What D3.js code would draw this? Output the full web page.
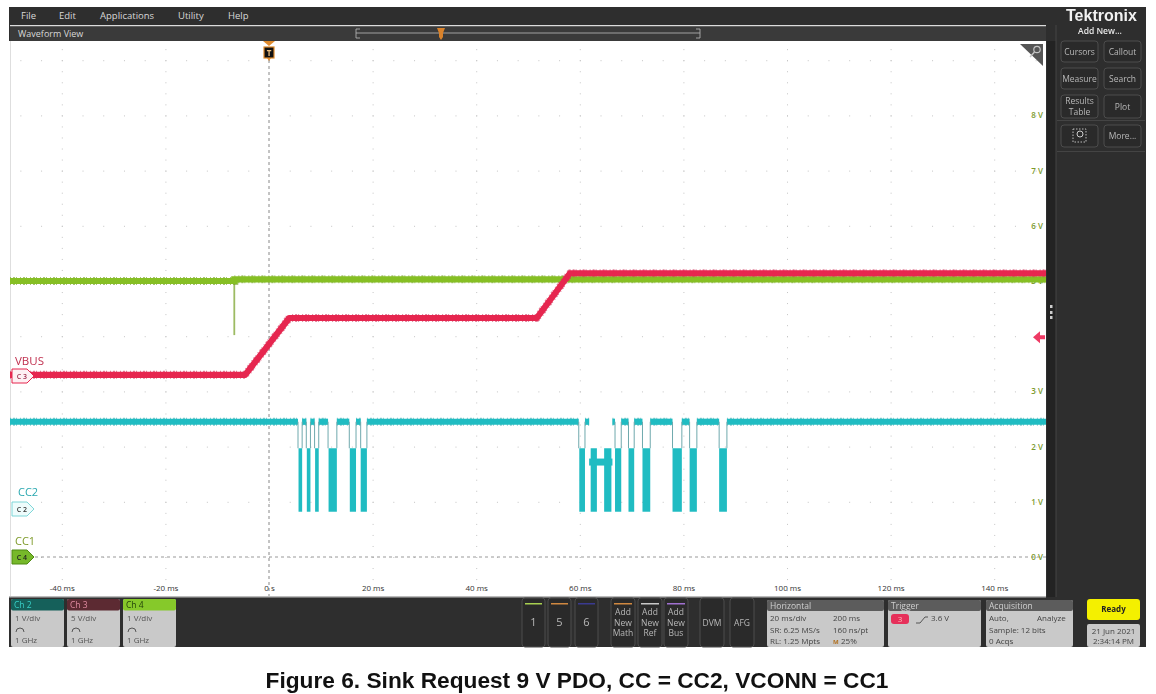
<!DOCTYPE html>
<html>
<head>
<meta charset="utf-8">
<script src="https://cdn.jsdelivr.net/npm/d3@7"></script>
<style>
  html, body { margin: 0; padding: 0; background: #fff; overflow: hidden; }
  svg { display: block; filter: blur(0.4px); }
  text { font-family: "Open Sans", sans-serif; }
  text.arial { font-family: "Liberation Sans", Arial, sans-serif; }
</style>
</head>
<body>
<svg id="scope" width="1156" height="694"></svg>
<script>
// values
const xTicks = [-40, -20, 0, 20, 40, 60, 80, 100, 120, 140];
const xTickLabels = ["-40 ms", "-20 ms", "0 s", "20 ms", "40 ms", "60 ms", "80 ms", "100 ms", "120 ms", "140 ms"];
const yTicks = [0, 1, 2, 3, 5, 6, 7, 8];
const gridVolts = [0, 1, 2, 3, 4, 5, 6, 7, 8, 9];

const vbusTime = [-50, -4.6, 3.9, 51.7, 58.1, 150];
const vbusVolts = [3.3, 3.3, 4.33, 4.33, 5.14, 5.14];

const cc1Time = [-50, -6.7, -6.7, 150];
const cc1Volts = [5.0, 5.0, 5.03, 5.03];
const cc1GlitchTime = [-6.7, -6.7];
const cc1GlitchVolts = [5.0, 4.02];

const cc2High = 2.45;
const cc2BarTop = 1.97;
const cc2BarBottom = 0.82;
// top band breaks
const cc2GapStart = [5.6, 7.2, 8.8, 11.4, 15.5, 17.7, 59.8, 61.8, 66.8, 69.4, 72.1, 77.9, 81.2, 86.9];
const cc2GapEnd = [6.4, 8.0, 9.6, 13.1, 16.8, 18.9, 61.0, 66.3, 68.0, 70.5, 73.6, 79.7, 82.6, 88.4];
// solid toggling bursts
const cc2BarStart = [5.7, 7.3, 8.9, 11.5, 15.6, 17.7, 59.9, 62.1, 64.7, 66.8, 69.4, 72.1, 77.9, 81.2, 86.9];
const cc2BarEnd = [6.4, 8.0, 9.6, 13.1, 16.8, 18.9, 61.0, 63.3, 66.1, 68.0, 70.5, 73.6, 79.7, 82.6, 88.4];
const cc2CrossTime = [61.8, 66.3];
const cc2CrossVolts = 1.72;

const triggerArrowVolts = 3.98;

const col = { cc2: "#20bcc2", cc1: "#86bf24", vbus: "#e6264f", dark: "#2e2e2e", panel: "#c9c9c9", head: "#5c5c5c" };

const svg = d3.select("#scope");
const x = d3.scaleLinear().domain([-50, 150]).range([10, 1046]);
const y = d3.scaleLinear().domain([0, 1]).range([557, 501.8]);

// frame
svg.append("rect").attr("x", 9).attr("y", 7).attr("width", 1137).attr("height", 640).attr("fill", col.dark);
svg.append("rect").attr("x", 8).attr("y", 41).attr("width", 1038).attr("height", 555).attr("fill", "#fff");
svg.append("rect").attr("x", 10).attr("y", 41).attr("width", 1).attr("height", 555).attr("fill", "#dedede");
svg.append("rect").attr("x", 10).attr("y", 25).attr("width", 1036).attr("height", 1.5).attr("fill", "#dcdcdc");
svg.append("rect").attr("x", 10).attr("y", 26.5).attr("width", 1036).attr("height", 14.5).attr("fill", "#3a3a3a");
svg.append("rect").attr("x", 1047).attr("y", 41).attr("width", 9).attr("height", 556).attr("fill", "#232323");
svg.append("rect").attr("x", 9).attr("y", 596).attr("width", 1037).attr("height", 1.5).attr("fill", "#bbb");

function label(px, py, str, size, fill, anchor, weight) {
  return svg.append("text").attr("x", px).attr("y", py).text(str)
    .attr("font-size", size).attr("fill", fill)
    .attr("text-anchor", anchor || "start").attr("font-weight", weight || 400);
}

// menu bar
[["File", 21], ["Edit", 59], ["Applications", 100], ["Utility", 178], ["Help", 228]].forEach(m => label(m[1], 19, m[0], 9.5, "#d8d8d8"));
label(18, 37, "Waveform View", 9, "#d8d8d8");

// overview bracket
svg.append("path").attr("d", "M356 29V38M356 33H700M700 29V38M356 29H360M356 38H360M700 29H696M700 38H696")
  .attr("fill", "none").attr("stroke", "#bbb").attr("stroke-width", 0.8);
svg.append("path").attr("d", "M437 28H445L443 33V37L441 40L439 37V33Z").attr("fill", "#d9822b");

// grid dots
const minorX = d3.range(-48, 150, 4);
const minorY = d3.range(-0.6, 9.4, 0.2);
const grid = svg.append("g").attr("fill", "#c4c4c4");
gridVolts.forEach(v => {
  grid.selectAll(null).data(minorX).enter().append("rect")
    .attr("x", d => x(d)).attr("y", y(v)).attr("width", 1).attr("height", 1);
});
xTicks.filter(t => t !== 0).forEach(t => {
  grid.selectAll(null).data(minorY).enter().append("rect")
    .attr("x", x(t)).attr("y", d => y(d)).attr("width", 1).attr("height", 1);
});

// ground reference + trigger position
svg.append("line").attr("x1", 35).attr("x2", x(150)).attr("y1", y(0)).attr("y2", y(0))
  .attr("stroke", "#999").attr("stroke-width", 1).attr("stroke-dasharray", "3 3");
svg.append("line").attr("x1", x(0)).attr("x2", x(0)).attr("y1", 60).attr("y2", 596)
  .attr("stroke", "#888").attr("stroke-width", 1).attr("stroke-dasharray", "3 3");

// axes
const xAxis = d3.axisBottom(x).tickValues(xTicks).tickSize(0).tickFormat((d, i) => xTickLabels[i]);
const gx = svg.append("g").attr("transform", "translate(0,582)").call(xAxis);
gx.select(".domain").remove();
gx.selectAll("text").attr("font-size", 8).attr("fill", "#333").style("font-family", "'Open Sans', sans-serif");

const yAxis = d3.axisLeft(y).tickValues(yTicks).tickSize(0).tickFormat(d => d + " V");
const gy = svg.append("g").attr("transform", "translate(1046,0)").call(yAxis);
gy.select(".domain").remove();
gy.selectAll("text").attr("font-size", 8).attr("fill", "#7c9a2c").attr("font-weight", 600).style("font-family", "'Open Sans', sans-serif");

// thick trace plus a broken outer stroke so the edge reads as scope noise
function noisyStroke(sel, edge) {
  const base = sel.clone(true).attr("stroke", edge).attr("stroke-width", 8)
    .attr("stroke-opacity", 0.6).attr("stroke-dasharray", "1 2 2 1 1 3");
  sel.raise();
  return base;
}

// CC2 trace
const cc2 = svg.append("g");
const bandEdges = [-50].concat(
  cc2GapStart.flatMap((s, i) => [s, cc2GapEnd[i]]), [150]);
d3.range(0, bandEdges.length, 2).forEach(i => {
  const band = cc2.append("line").attr("x1", x(bandEdges[i])).attr("x2", x(bandEdges[i + 1]))
    .attr("y1", y(cc2High)).attr("y2", y(cc2High))
    .attr("stroke", col.cc2).attr("stroke-width", 6.2);
  noisyStroke(band, "#35a8ac");
});
cc2GapStart.forEach((s, i) => {
  if (s === cc2CrossTime[0]) return;
  [s, cc2GapEnd[i]].forEach(t => {
    cc2.append("line").attr("x1", x(t)).attr("x2", x(t))
      .attr("y1", y(cc2High)).attr("y2", y(cc2BarTop))
      .attr("stroke", "#6fa9ad").attr("stroke-width", 1);
  });
});
cc2.selectAll("rect.bar").data(cc2BarStart).enter().append("rect").attr("class", "bar")
  .attr("x", d => x(d))
  .attr("width", (d, i) => x(cc2BarEnd[i]) - x(d))
  .attr("y", y(cc2BarTop))
  .attr("height", y(cc2BarBottom) - y(cc2BarTop))
  .attr("fill", col.cc2);
cc2.append("line").attr("x1", x(cc2CrossTime[0])).attr("x2", x(cc2CrossTime[1]))
  .attr("y1", y(cc2CrossVolts)).attr("y2", y(cc2CrossVolts))
  .attr("stroke", col.cc2).attr("stroke-width", 7);

// CC1 trace
const line = d3.line().x(d => x(d[0])).y(d => y(d[1]));
svg.append("path").datum(cc1GlitchTime.map((t, i) => [t, cc1GlitchVolts[i]])).attr("d", line)
  .attr("fill", "none").attr("stroke", "#9dbb63").attr("stroke-width", 1.8);
const cc1Path = svg.append("path").datum(cc1Time.map((t, i) => [t, cc1Volts[i]])).attr("d", line)
  .attr("fill", "none").attr("stroke", col.cc1).attr("stroke-width", 6.2);
noisyStroke(cc1Path, "#6f9a22");

// VBUS trace
const vbusPath = svg.append("path").datum(vbusTime.map((t, i) => [t, vbusVolts[i]])).attr("d", line)
  .attr("fill", "none").attr("stroke", col.vbus).attr("stroke-width", 6.2).attr("stroke-linejoin", "round");
noisyStroke(vbusPath, "#d0305a");

// trigger markers
svg.append("path").attr("d", `M${x(0) - 6} 41H${x(0) + 6}L${x(0)} 46Z`).attr("fill", "#e08a2c");
svg.append("rect").attr("x", x(0) - 5).attr("y", 47).attr("width", 10).attr("height", 11)
  .attr("fill", "#111").attr("stroke", "#e08a2c").attr("stroke-width", 1.2);
label(x(0), 56, "T", 8, "#f0c080", "middle", 700);
svg.append("path").attr("d", `M${x(0) - 2} 58H${x(0) + 2}L${x(0)} 61Z`).attr("fill", "#e08a2c");
const ta = y(triggerArrowVolts);
svg.append("path").attr("d", `M1033 ${ta}L1040 ${ta - 6}V${ta - 2}H1045V${ta + 2}H1040V${ta + 6}Z`).attr("fill", "#ee3a64");

// zoom corner
svg.append("path").attr("d", "M1020 44H1043V66Z").attr("fill", "#555");
svg.append("circle").attr("cx", 1037).attr("cy", 49.5).attr("r", 3.2).attr("fill", "none").attr("stroke", "#c4c4c4").attr("stroke-width", 1.2);
svg.append("line").attr("x1", 1034.5).attr("y1", 52).attr("x2", 1030).attr("y2", 57).attr("stroke", "#c4c4c4").attr("stroke-width", 1.4);

// side handle
[305, 311, 316].forEach(py => svg.append("rect").attr("x", 1050).attr("y", py).attr("width", 2.5).attr("height", 3).attr("fill", "#ccc"));

// channel badges
function badge(py, name, fill, stroke, txt) {
  svg.append("path").attr("d", `M12 ${py}H27L34 ${py + 7}L27 ${py + 14}H12Z`)
    .attr("fill", fill).attr("stroke", stroke).attr("stroke-width", 1).attr("stroke-linejoin", "round");
  label(22, py + 10, name, 7, txt, "middle", 600);
}
badge(369, "C 3", "#fdf0f3", "#e6264f", "#a03050");
badge(502, "C 2", "#eefcfc", "#7fd6d8", "#333");
badge(550, "C 4", "#76b82a", "#4f8a12", "#222");
label(15, 365, "VBUS", 11.5, "#c0304f");
label(18, 496, "CC2", 11, "#2aa8b0");
label(15, 545, "CC1", 11, "#7e9a2a");

// channel tiles
function channelTile(px, head, headText, name, scale) {
  svg.append("rect").attr("x", px).attr("y", 599).attr("width", 53).attr("height", 48).attr("rx", 2).attr("fill", col.panel);
  svg.append("rect").attr("x", px).attr("y", 599).attr("width", 53).attr("height", 11.5).attr("rx", 2).attr("fill", head);
  label(px + 3, 608, name, 8.5, headText);
  label(px + 4, 621, scale, 8, "#555");
  svg.append("path").attr("d", `M${px + 5} 632a4 4 0 0 1 8 0`).attr("fill", "none").attr("stroke", "#555").attr("stroke-width", 1);
  label(px + 4, 643, "1 GHz", 8, "#555");
}
channelTile(11, "#15605a", "#38d0c8", "Ch 2", "1 V/div");
channelTile(67, "#5c2a32", "#e08aa0", "Ch 3", "5 V/div");
channelTile(123, "#86c92a", "#22420a", "Ch 4", "1 V/div");

// dark buttons
function darkButton(px, py, w, h, lines, size) {
  svg.append("rect").attr("x", px).attr("y", py).attr("width", w).attr("height", h).attr("rx", 3)
    .attr("fill", "#2a2a2a").attr("stroke", "#4c4c4c").attr("stroke-width", 1);
  const lh = size + 2;
  const start = py + h / 2 - (lines.length - 1) * lh / 2 + size * 0.36;
  lines.forEach((s, i) => label(px + w / 2, start + i * lh, s, size, "#b8b8b8", "middle"));
}
function strip(px, w, color) {
  svg.append("rect").attr("x", px + 3).attr("y", 603).attr("width", w - 6).attr("height", 1.5).attr("fill", color);
}
darkButton(522, 598, 23, 49, ["1"], 11); strip(522, 23, "#a8d050");
darkButton(548, 598, 23, 49, ["5"], 11); strip(548, 23, "#d08840");
darkButton(575, 598, 23, 49, ["6"], 11); strip(575, 23, "#3a3a90");
darkButton(611, 598, 24, 49, ["Add", "New", "Math"], 8.5); strip(611, 24, "#d08840");
darkButton(638, 598, 24, 49, ["Add", "New", "Ref"], 8.5); strip(638, 24, "#c8c8c8");
darkButton(664, 598, 24, 49, ["Add", "New", "Bus"], 8.5); strip(664, 24, "#a070d0");
darkButton(700, 598, 24, 49, ["DVM"], 8.5);
darkButton(730, 598, 24, 49, ["AFG"], 8.5);

// status tiles
function statusTile(px, w, title) {
  svg.append("rect").attr("x", px).attr("y", 600).attr("width", w).attr("height", 47).attr("rx", 2).attr("fill", col.panel);
  svg.append("rect").attr("x", px).attr("y", 600).attr("width", w).attr("height", 11).attr("rx", 2).attr("fill", col.head);
  label(px + 3, 609, title, 8.5, "#cfcfcf");
}
statusTile(767, 117, "Horizontal");
label(770, 621, "20 ms/div", 8, "#444");
label(833, 621, "200 ms", 8, "#444");
label(770, 632.5, "SR: 6.25 MS/s", 8, "#444");
label(833, 632.5, "160 ns/pt", 8, "#444");
label(770, 643.5, "RL: 1.25 Mpts", 8, "#444");
label(833, 643.5, "M", 6, "#b07020", "start", 700);
label(841, 643.5, "25%", 8, "#444");

statusTile(888, 93, "Trigger");
svg.append("rect").attr("x", 891).attr("y", 614).attr("width", 18).attr("height", 10).attr("rx", 3).attr("fill", "#e6305a");
label(900, 622, "3", 8, "#fbb", "middle");
svg.append("path").attr("d", "M916 623L920 623L925 617L928 617").attr("fill", "none").attr("stroke", "#555").attr("stroke-width", 1);
label(931, 621, "3.6 V", 8, "#444");

statusTile(986, 87, "Acquisition");
label(989, 621, "Auto,", 8, "#444");
label(1037, 621, "Analyze", 8, "#444");
label(989, 632.5, "Sample: 12 bits", 8, "#444");
label(989, 643.5, "0 Acqs", 8, "#444");

svg.append("rect").attr("x", 1087).attr("y", 599).attr("width", 53).attr("height", 21).attr("rx", 3).attr("fill", "#f4f000");
label(1113.5, 612, "Ready", 8, "#222", "middle", 700);
svg.append("rect").attr("x", 1087).attr("y", 624).attr("width", 53).attr("height", 23).attr("rx", 2).attr("fill", col.panel);
label(1113.5, 634, "21 Jun 2021", 8, "#444", "middle");
label(1113.5, 644, "2:34:14 PM", 8, "#444", "middle");

// right panel
svg.append("line").attr("x1", 1056).attr("x2", 1056).attr("y1", 25).attr("y2", 597).attr("stroke", "#444");
label(1066, 21, "Tektronix", 16, "#f2f2f2", "start", 700).attr("class", "arial");
label(1100, 34, "Add New...", 8.5, "#e8e8e8", "middle", 600);
darkButton(1061, 41, 37, 21, ["Cursors"], 8.5);
darkButton(1104, 41, 37, 21, ["Callout"], 8.5);
darkButton(1061, 68, 37, 21, ["Measure"], 8.5);
darkButton(1104, 68, 37, 21, ["Search"], 8.5);
darkButton(1061, 95, 37, 23, ["Results", "Table"], 8.5);
darkButton(1104, 95, 37, 23, ["Plot"], 8.5);
darkButton(1061, 125, 37, 22, [""], 8.5);
darkButton(1104, 125, 37, 22, ["More..."], 8.5);
svg.append("rect").attr("x", 1073).attr("y", 129).attr("width", 13).attr("height", 13).attr("fill", "none")
  .attr("stroke", "#bbb").attr("stroke-dasharray", "1.5 1.5");
svg.append("circle").attr("cx", 1080).attr("cy", 134).attr("r", 3).attr("fill", "none").attr("stroke", "#ccc");
svg.append("line").attr("x1", 1057).attr("x2", 1145).attr("y1", 120.5).attr("y2", 120.5).attr("stroke", "#444");
svg.append("line").attr("x1", 1057).attr("x2", 1145).attr("y1", 151.5).attr("y2", 151.5).attr("stroke", "#444");

// caption
label(577, 688, "Figure 6. Sink Request 9 V PDO, CC = CC2, VCONN = CC1", 22.7, "#111", "middle", 700)
  .attr("class", "arial");
</script>
</body>
</html>
